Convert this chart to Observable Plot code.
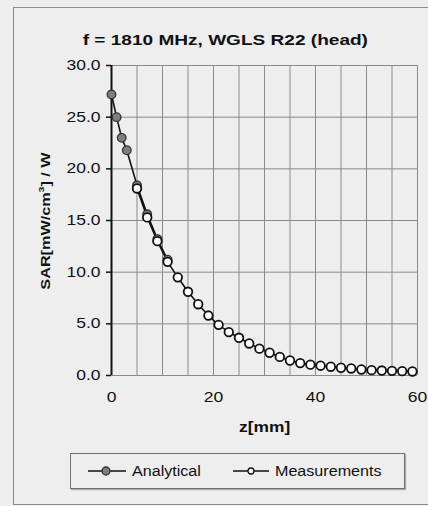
<!DOCTYPE html>
<html>
<head>
<meta charset="utf-8">
<script src="https://cdn.jsdelivr.net/npm/d3@7"></script>
<script src="https://cdn.jsdelivr.net/npm/@observablehq/plot@0.6"></script>
<style>
  html, body { margin: 0; padding: 0; background: #eeeeee; }
  #wrap { position: relative; width: 428px; height: 506px; overflow: hidden; background: #eeeeee;
          font-family: "Liberation Sans", Arial, sans-serif; color: #111; }
  #wrap svg.plot { position: absolute; left: 0; top: 0; background: none; }
  .ov { position: absolute; white-space: nowrap; line-height: 1; }
  #frame { position: absolute; left: 13px; top: 7px; width: 440px; height: 496px; border: 1px solid #8c8c8c; }
  #title { left: 0; width: 450px; top: 32px; text-align: center; font-weight: bold; font-size: 15px; }
  #title span, #xlab span, .leg span.t { display: inline-block; }
  #title span { transform: scaleX(1.27); }
  #xlab { left: 165px; width: 200px; top: 420px; text-align: center; font-weight: bold; font-size: 14px; }
  #xlab span { transform: scaleX(1.24); }
  #ylab { left: 45px; top: 221px; font-weight: bold; font-size: 13px;
          transform: translate(-50%,-50%) rotate(-90deg) scaleX(1.25); }
  #ylab sup { font-size: 8px; vertical-align: 6px; line-height: 0; }
  #legend { position: absolute; left: 70px; top: 453px; width: 333px; height: 34px; border: 1px solid #707070;
            box-shadow: 1px 1px 1px #aaa; }
  .leg { position: absolute; top: 0; height: 34px; display: flex; align-items: center; font-size: 14px; }
  .leg svg { margin-right: 5px; }
  .leg span.t { transform: scaleX(1.15); transform-origin: left center; }
</style>
</head>
<body>
<div id="wrap">
  <div id="frame"></div>
  <div id="title" class="ov"><span>f = 1810 MHz, WGLS R22 (head)</span></div>
  <div id="ylab" class="ov">SAR[mW/cm<sup>3</sup>] / W</div>
  <div id="xlab" class="ov"><span>z[mm]</span></div>
  <div id="legend">
    <div class="leg" style="left:16px"><svg width="40" height="12"><line x1="1" y1="6" x2="39" y2="6" stroke="#111" stroke-width="1.6"/><circle cx="19" cy="6" r="4" fill="#7e7e7e" stroke="#333" stroke-width="1.3"/></svg><span class="t" id="lgA"></span></div>
    <div class="leg" style="left:161px"><svg width="38" height="12"><line x1="1" y1="6" x2="37" y2="6" stroke="#111" stroke-width="1.6"/><circle cx="19" cy="6" r="3" fill="#fff" stroke="#111" stroke-width="1.3"/></svg><span class="t" id="lgM"></span></div>
  </div>
</div>
<script>
// ---- data ----
const seriesNames = ["Analytical", "Measurements"];
const zAnalytical = [0, 1, 2, 3, 5, 7, 9, 11];
const sarAnalytical = [27.2, 25.0, 23.0, 21.8, 18.4, 15.6, 13.2, 11.2];
const zMeasured = [5, 7, 9, 11, 13, 15, 17, 19, 21, 23, 25, 27, 29, 31, 33, 35, 37, 39, 41, 43, 45, 47, 49, 51, 53, 55, 57, 59];
const sarMeasured = [18.1, 15.3, 13.0, 11.0, 9.5, 8.1, 6.9, 5.8, 4.9, 4.2, 3.65, 3.1, 2.6, 2.2, 1.8, 1.45, 1.2, 1.05, 0.95, 0.85, 0.75, 0.68, 0.58, 0.52, 0.48, 0.45, 0.42, 0.39];
const xTicks = [0, 20, 40, 60];
const yTicks = [0, 5, 10, 15, 20, 25, 30];
const xGrid = [0, 5, 10, 15, 20, 25, 30, 35, 40, 45, 50, 55, 60];

const analytical = zAnalytical.map((z, i) => ({z, sar: sarAnalytical[i]}));
const measured = zMeasured.map((z, i) => ({z, sar: sarMeasured[i]}));

document.getElementById("lgA").textContent = seriesNames[0];
document.getElementById("lgM").textContent = seriesNames[1];

const chart = Plot.plot({
  width: 428,
  height: 506,
  marginLeft: 111,
  marginRight: 11,
  marginTop: 65,
  marginBottom: 131,
  style: {background: "none", fontFamily: "Liberation Sans, Arial, sans-serif", fontSize: "14px", color: "#111", overflow: "visible"},
  x: {domain: [0, 60]},
  y: {domain: [0, 30]},
  marks: [
    Plot.gridX(xGrid, {stroke: "#8a8a8a", strokeOpacity: 1, strokeWidth: 1}),
    Plot.gridY(yTicks, {stroke: "#8a8a8a", strokeOpacity: 1, strokeWidth: 1}),
    Plot.ruleX([0], {y1: 0, y2: 30, stroke: "#111", strokeWidth: 2}),
    Plot.axisY(yTicks, {tickSize: 5, tickPadding: 6, tickFormat: d => d.toFixed(1), label: null, stroke: "#111", strokeWidth: 1.5, fill: "#111", fontSize: 14}),
    Plot.axisX(xTicks, {tickSize: 0, tickPadding: 17, label: null, fill: "#111", fontSize: 14}),
    Plot.line(analytical, {x: "z", y: "sar", stroke: "#111", strokeWidth: 1.6}),
    Plot.line(measured, {x: "z", y: "sar", stroke: "#111", strokeWidth: 1.6}),
    Plot.dot(analytical, {x: "z", y: "sar", r: 4.3, fill: "#7e7e7e", stroke: "#333", strokeWidth: 1.3}),
    Plot.dot(measured, {x: "z", y: "sar", r: 4.3, fill: "#ffffff", stroke: "#111", strokeWidth: 1.8})
  ]
});
chart.classList.add("plot");
document.getElementById("wrap").insertBefore(chart, document.getElementById("frame").nextSibling);

// widen tick labels horizontally to match the scanned, wide lettering
chart.querySelectorAll('g[aria-label="y-axis tick label"] text, g[aria-label="x-axis tick label"] text').forEach(t => {
  const w = t.getComputedTextLength();
  if (w > 0) {
    t.setAttribute("textLength", (w * 1.25).toFixed(2));
    t.setAttribute("lengthAdjust", "spacingAndGlyphs");
  }
});
</script>
</body>
</html>
